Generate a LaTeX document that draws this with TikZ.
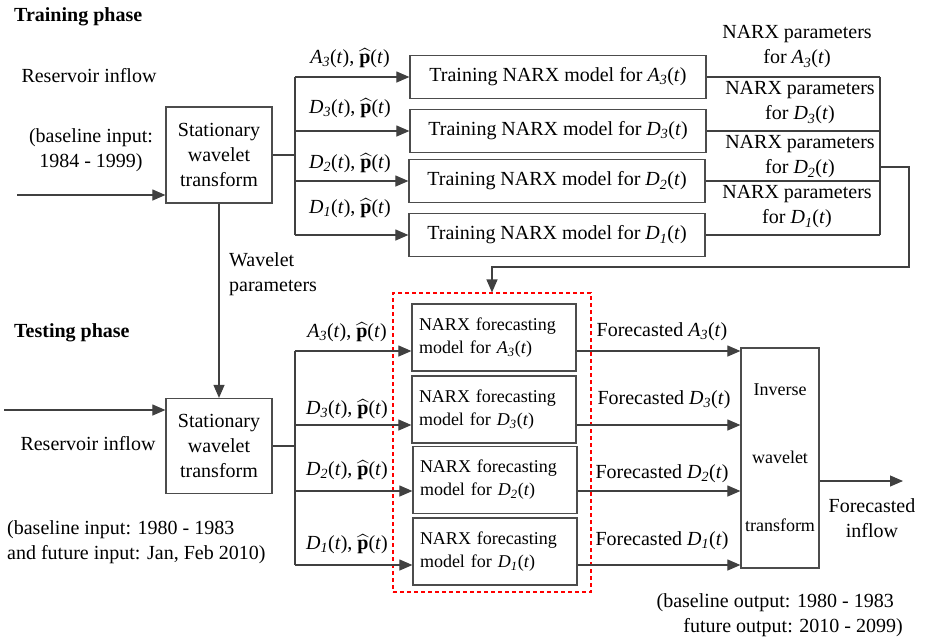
\documentclass[tikz,border=0pt]{standalone}
\usepackage{amsmath}
\usepackage{fontspec}
\setmainfont{Liberation Serif}
\usetikzlibrary{positioning,arrows.meta}
\newcommand{\comp}[2]{\textit{#1\textsubscript{#2}}(\textit{t})}
\newcommand{\phat}{\mbox{$\widehat{\mathbf{p}}$}(\textit{t})}
\begin{document}
\begin{tikzpicture}[x=1pt,y=-1pt,
			font=\fontsize{20}{25}\selectfont,
			box/.style={draw=black!70,line width=1.2pt,rectangle,inner sep=2pt},
			trainbox/.style={box,minimum width=296pt,minimum height=43pt},
			swtbox/.style={box,minimum width=106pt,minimum height=96pt,align=center},
			fcbox/.style={box,minimum width=164pt,minimum height=67pt,text width=150pt,align=left,font=\fontsize{18}{23}\selectfont},
			link/.style={draw=black!75,line width=1.1pt},
			arr/.style={link,-{Triangle[length=13pt,width=11pt]}},
			lbl/.style={inner sep=0pt}]
			\useasboundingbox (0,0) rectangle (935,641);

			\node (trainhead) [lbl,anchor=west] at (14,17) {\textbf{Training phase}};
			\node (testhead) [lbl,anchor=west] at (14,333) {\textbf{Testing phase}};

			\node (swtA) [swtbox] at (219,155) {Stationary\\wavelet\\transform};
			\node (swtB) [swtbox,minimum height=95pt] at (219,446) {Stationary\\wavelet\\transform};

			\node (inflowA) [lbl] at (89,76) {Reservoir inflow};
			\node (periodA) [lbl,align=center] at (91,150) {(baseline input:\\1984 - 1999)};
			\node (inflowB) [lbl] at (88,444) {Reservoir inflow};
			\node (periodB) [lbl,align=left,anchor=west] at (7,542) {(baseline input: 1980 - 1983\\and future input: Jan, Feb 2010)};
			\node (wavepar) [lbl,align=left,anchor=west] at (229,274) {Wavelet\\parameters};

			\node (trainA3) [trainbox] at (558,77) {Training NARX model for \comp{A}{3}};
			\node (trainD3) [trainbox] at (558,131) {Training NARX model for \comp{D}{3}};
			\node (trainD2) [trainbox] at (557,181) {Training NARX model for \comp{D}{2}};
			\node (trainD1) [trainbox] at (557,235) {Training NARX model for \comp{D}{1}};

			\node (inA3) [lbl] at (350,58) {\comp{A}{3}, \phat};
			\node (inD3) [lbl] at (350,108) {\comp{D}{3}, \phat};
			\node (inD2) [lbl] at (350,163) {\comp{D}{2}, \phat};
			\node (inD1) [lbl] at (350,208) {\comp{D}{1}, \phat};

			\node (parA3) [lbl,align=center] at (797,47) {NARX parameters\\for \comp{A}{3}};
			\node (parD3) [lbl,align=center] at (800,103) {NARX parameters\\for \comp{D}{3}};
			\node (parD2) [lbl,align=center] at (800,157) {NARX parameters\\for \comp{D}{2}};
			\node (parD1) [lbl,align=center] at (797,207) {NARX parameters\\for \comp{D}{1}};

			\node (fcgroup) [draw=red,dash pattern=on 4pt off 3pt,line width=1.1pt,minimum width=198pt,minimum height=299pt] at (492,442.5) {};
			\node (fcA3) [fcbox] at (494,337.5) {NARX forecasting\\model for \comp{A}{3}};
			\node (fcD3) [fcbox] at (494,409.5) {NARX forecasting\\model for \comp{D}{3}};
			\node (fcD2) [fcbox] at (495,480) {NARX forecasting\\model for \comp{D}{2}};
			\node (fcD1) [fcbox] at (495,551.5) {NARX forecasting\\model for \comp{D}{1}};

			\node (tsA3) [lbl] at (347,332) {\comp{A}{3}, \phat};
			\node (tsD3) [lbl] at (347,409) {\comp{D}{3}, \phat};
			\node (tsD2) [lbl] at (347,470) {\comp{D}{2}, \phat};
			\node (tsD1) [lbl] at (347,544) {\comp{D}{1}, \phat};

			\node (outA3) [lbl] at (662,332) {Forecasted \comp{A}{3}};
			\node (outD3) [lbl] at (664,400) {Forecasted \comp{D}{3}};
			\node (outD2) [lbl] at (662,474) {Forecasted \comp{D}{2}};
			\node (outD1) [lbl] at (662,541) {Forecasted \comp{D}{1}};

			\node (inv) [box,minimum width=78pt,minimum height=220pt,align=center,font=\fontsize{18}{22}\selectfont] at (780,458) {Inverse\\[46pt]wavelet\\[46pt]transform};
			\node (fcflow) [lbl,align=center] at (872,518) {Forecasted\\inflow};
			\node (outper1) [lbl,anchor=east] at (894,603) {(baseline output: 1980 - 1983};
			\node (outper2) [lbl,anchor=east] at (903,628) {future output: 2010 - 2099)};

			\coordinate (srcA) at (17,195);
			\coordinate (srcB) at (4,410);
			\coordinate (busA) at (295,155);
			\coordinate (busB) at (295,446);
			\coordinate (collect) at (880,167);
			\coordinate (ret) at (909,267);
			\coordinate (lvA3) at (0,351);
			\coordinate (lvD3) at (0,425);
			\coordinate (lvD2) at (0,491);
			\coordinate (lvD1) at (0,565);
			\coordinate (lvout) at (0,481);
			\coordinate (sink) at (903,481);

			\draw[arr] (srcA) -- (srcA -| swtA.west);
			\draw[link] (swtA.east) -- (busA);
			\draw[link] (busA |- trainA3) -- (busA |- trainD1);
			\foreach \k in {A3,D3,D2,D1}
				\draw[arr] (busA |- train\k.west) -- (train\k.west);
			\foreach \k in {A3,D3,D2,D1}
				\draw[link] (train\k.east) -- (train\k.east -| collect);
			\draw[link] (collect |- trainA3) -- (collect |- trainD1);
			\draw[arr] (collect) -| (ret) -| (fcgroup.north);

			\draw[arr] (swtA.south) -- (swtB.north);
			\draw[arr] (srcB) -- (srcB -| swtB.west);
			\draw[link] (swtB.east) -- (busB);
			\draw[link] (busB |- lvA3) -- (busB |- lvD1);
			\foreach \k in {A3,D3,D2,D1}
				\draw[arr] (busB |- lv\k) -- (fc\k.west |- lv\k);
			\foreach \k in {A3,D3,D2,D1}
				\draw[arr] (fc\k.east |- lv\k) -- (inv.west |- lv\k);
			\draw[arr] (inv.east |- lvout) -- (sink);
		\end{tikzpicture}
\end{document}
